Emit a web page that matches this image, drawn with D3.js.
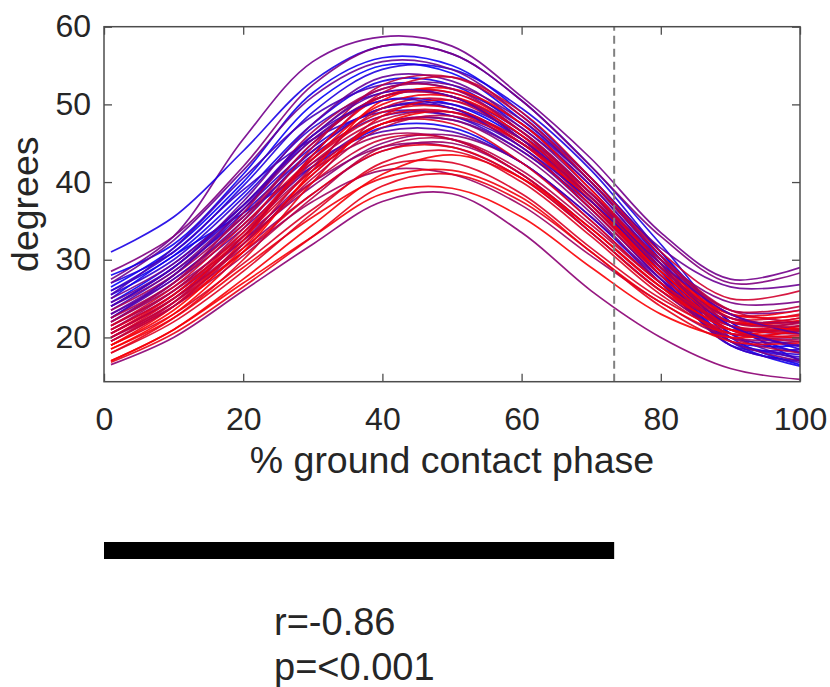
<!DOCTYPE html>
<html>
<head>
<meta charset="utf-8">
<script src="https://cdn.jsdelivr.net/npm/d3@7"></script>
<style>
  body { margin: 0; background: #fff; }
  text { font-family: "Liberation Sans", Arial, sans-serif; fill: #262626; }
</style>
</head>
<body>
<svg id="chart" width="830" height="687"></svg>
<script>
// sample points along the ground contact phase (%)
var phase = [1, 10, 20, 30, 40, 50, 60, 70, 80, 90, 100];

// joint angle (degrees) of each trial at the sample points above
var angleCurves = [
    [27.5, 33.0, 45.5, 55.5, 58.7, 57.5, 51.0, 43.0, 33.5, 27.5, 29.0],
    [31.0, 35.5, 44.0, 53.0, 57.5, 56.5, 50.5, 42.0, 32.0, 22.0, 18.5],
    [28.0, 32.0, 41.0, 51.5, 56.0, 55.0, 49.0, 40.5, 31.0, 22.0, 17.0],
    [26.5, 31.5, 40.0, 50.0, 55.0, 54.0, 48.0, 40.0, 30.0, 20.0, 16.5],
    [27.0, 31.0, 39.5, 49.0, 54.5, 54.5, 49.5, 41.5, 31.0, 21.5, 18.0],
    [26.0, 30.5, 38.5, 47.5, 53.0, 52.5, 47.0, 39.5, 29.5, 19.5, 16.3],
    [25.5, 30.0, 38.0, 47.0, 51.5, 51.0, 46.5, 38.5, 29.0, 19.5, 17.5],
    [24.5, 29.5, 37.0, 45.5, 50.5, 50.0, 45.5, 38.0, 28.5, 19.0, 17.0],
    [26.0, 31.0, 39.0, 45.5, 49.0, 48.5, 44.0, 37.0, 28.0, 19.0, 18.5],
    [25.0, 30.5, 36.0, 42.0, 47.0, 47.0, 42.5, 35.5, 27.0, 19.5, 19.0],
    [24.0, 29.0, 36.5, 44.5, 49.5, 49.5, 45.0, 37.5, 28.5, 19.5, 17.8],
    [23.5, 28.5, 35.5, 43.5, 48.5, 48.5, 44.5, 36.5, 27.5, 19.0, 16.8],
    [25.5, 31.5, 40.5, 48.5, 52.5, 52.0, 47.5, 40.0, 30.5, 20.5, 17.2],
    [22.5, 28.0, 36.0, 44.0, 49.5, 50.0, 46.0, 38.5, 29.5, 20.5, 18.2],
    [28.5, 33.0, 42.0, 52.5, 57.5, 56.5, 50.5, 42.0, 33.0, 27.0, 28.3],
    [27.0, 32.5, 41.5, 51.0, 55.5, 54.5, 48.5, 40.5, 31.5, 26.5, 26.8],
    [24.0, 28.5, 36.5, 45.5, 51.0, 51.5, 47.0, 39.0, 30.0, 24.5, 24.6],
    [23.0, 27.5, 35.0, 44.0, 49.5, 49.5, 45.0, 37.5, 28.5, 21.5, 20.5],
    [22.0, 27.0, 34.0, 42.0, 47.5, 48.0, 44.0, 36.5, 27.5, 20.0, 19.5],
    [21.5, 26.0, 32.5, 39.5, 45.0, 46.0, 42.5, 35.0, 27.0, 21.0, 21.5],
    [20.5, 25.0, 31.5, 38.5, 44.0, 45.0, 41.0, 33.5, 26.0, 20.5, 20.0],
    [16.5, 20.0, 26.0, 32.0, 37.5, 38.5, 33.5, 26.0, 20.0, 16.0, 14.6],
    [25.0, 29.5, 37.0, 46.0, 52.0, 52.5, 48.0, 40.0, 30.5, 23.5, 23.5],
    [23.5, 28.0, 35.5, 45.0, 51.0, 51.0, 46.0, 38.0, 29.0, 22.5, 22.0],
    [22.5, 27.5, 34.5, 42.5, 46.5, 46.5, 42.5, 35.5, 27.5, 21.0, 19.0],
    [21.0, 26.0, 33.5, 41.5, 46.0, 45.5, 41.0, 34.0, 26.5, 20.0, 18.0],
    [20.0, 24.5, 31.0, 37.5, 41.5, 41.0, 37.0, 30.5, 24.5, 20.0, 19.8],
    [24.5, 29.0, 37.5, 47.5, 53.5, 53.0, 47.5, 39.5, 30.0, 23.0, 21.0],
    [22.0, 26.5, 33.0, 40.0, 44.5, 44.5, 40.5, 33.5, 26.0, 20.5, 20.8],
    [21.0, 25.5, 32.5, 41.0, 47.5, 48.0, 43.5, 36.0, 27.0, 19.5, 17.0],
    [17.0, 21.0, 27.0, 33.0, 38.5, 39.2, 35.5, 29.0, 23.0, 20.0, 21.0],
    [18.5, 22.5, 29.0, 35.5, 40.5, 41.5, 38.0, 31.0, 24.5, 20.5, 21.5],
    [19.0, 23.0, 29.5, 36.5, 42.0, 42.5, 38.5, 31.5, 25.0, 21.0, 22.0],
    [19.5, 24.0, 31.0, 38.5, 44.0, 44.5, 40.5, 33.5, 26.0, 21.5, 21.2],
    [20.0, 24.5, 32.0, 40.0, 45.5, 45.5, 41.0, 34.0, 26.5, 22.0, 22.5],
    [20.5, 25.5, 33.5, 43.0, 49.0, 49.5, 45.0, 37.0, 28.5, 22.5, 23.0],
    [19.0, 24.0, 32.5, 43.5, 51.0, 51.5, 46.5, 38.0, 29.0, 23.0, 23.5],
    [18.5, 23.0, 31.0, 41.5, 50.5, 52.0, 47.5, 39.0, 29.5, 22.5, 21.0],
    [20.0, 25.0, 33.0, 43.5, 51.5, 53.5, 49.0, 40.5, 31.0, 25.0, 26.0],
    [21.5, 26.0, 34.0, 44.5, 52.5, 53.5, 48.5, 40.0, 30.5, 23.5, 22.0],
    [18.0, 22.5, 30.0, 40.0, 48.5, 50.5, 46.0, 37.5, 28.0, 21.5, 20.5],
    [19.5, 24.0, 32.0, 42.0, 49.5, 50.5, 45.5, 37.0, 28.0, 21.0, 19.5],
    [17.0, 21.0, 27.5, 34.5, 41.0, 43.5, 40.5, 34.0, 26.5, 21.0, 20.0],
    [20.0, 24.0, 30.5, 38.0, 44.5, 45.5, 41.5, 34.5, 27.0, 21.5, 20.8],
    [21.0, 25.5, 33.0, 41.5, 47.5, 47.5, 42.5, 35.0, 27.0, 22.0, 22.5],
    [22.5, 27.0, 35.0, 45.0, 51.0, 51.0, 45.5, 37.5, 28.5, 22.0, 21.8],
    [19.0, 23.5, 31.5, 41.0, 47.5, 49.0, 45.0, 37.5, 28.5, 22.0, 22.2],
    [18.0, 22.0, 28.5, 36.0, 42.5, 44.0, 40.0, 33.0, 25.5, 20.5, 20.3],
    [20.5, 25.0, 33.0, 43.0, 50.0, 51.0, 46.5, 38.5, 29.5, 23.0, 22.8],
    [16.8, 20.5, 26.5, 33.0, 39.5, 41.0, 37.5, 31.0, 24.0, 19.5, 19.3],
    [19.5, 24.5, 33.0, 42.5, 48.0, 49.0, 45.5, 38.5, 30.0, 23.5, 24.0],
    [21.5, 26.5, 34.5, 43.0, 48.5, 49.0, 44.5, 36.5, 28.0, 21.5, 21.0],
    [22.0, 27.0, 36.0, 46.5, 52.0, 52.0, 46.5, 38.5, 29.0, 22.5, 22.0],
    [23.0, 28.0, 36.5, 46.0, 51.5, 51.0, 45.5, 38.0, 29.5, 23.0, 20.5],
    [24.0, 29.0, 37.0, 46.0, 50.5, 49.5, 44.5, 37.5, 29.0, 21.5, 18.8],
    [20.5, 25.0, 32.0, 40.5, 47.0, 48.5, 45.0, 38.0, 29.0, 22.0, 21.5]
];

// colour weight of each trial: 0 = blue, 1 = red
var redness = [
    0.45, 0.10, 0.05, 0.02, 0.12, 0.08, 0.18, 0.00, 0.22, 0.06,
    0.15, 0.25, 0.28, 0.20, 0.50, 0.42, 0.48, 0.35, 0.38, 0.55,
    0.60, 0.55, 0.45, 0.65, 0.32, 0.68, 0.62, 0.40, 0.58, 0.52,
    0.98, 0.95, 0.85, 0.90, 0.80, 0.88, 0.93, 1.00, 0.82, 0.75,
    0.92, 0.78, 0.97, 0.72, 0.86, 0.70, 0.99, 0.87, 0.94, 0.91,
    0.76, 0.83, 0.66, 0.36, 0.26, 0.74
];

var xTicks = [0, 20, 40, 60, 80, 100];
var yTicks = [20, 30, 40, 50, 60];
var eventPhase = 73.3;          // dashed marker
var sigRange = [0, 73.3];       // significant region bar
var statLines = ["r=-0.86", "p=<0.001"];

var svg = d3.select("#chart");

var x = d3.scaleLinear().domain([0, 100]).range([104, 800]);
var y = d3.scaleLinear().domain([14.3, 60]).range([381.7, 26.7]);

var color = d3.interpolateRgb("#0000ff", "#ff0000");

svg.append("defs").append("clipPath")
    .attr("id", "plot-clip")
    .append("rect")
    .attr("x", x(0)).attr("y", y(60))
    .attr("width", x(100) - x(0)).attr("height", y(14.3) - y(60));

var line = d3.line()
    .x(function(d, i) { return x(phase[i]); })
    .y(function(d) { return y(d); })
    .curve(d3.curveCatmullRom.alpha(0.5));

svg.append("g")
    .attr("clip-path", "url(#plot-clip)")
    .attr("fill", "none")
    .selectAll("path")
    .data(angleCurves)
    .enter().append("path")
    .attr("d", line)
    .attr("stroke", function(d, i) { return color(redness[i]); })
    .attr("stroke-width", 1.7)
    .attr("stroke-opacity", 0.9);

// dashed event line
svg.append("line")
    .attr("x1", x(eventPhase)).attr("x2", x(eventPhase))
    .attr("y1", y(14.3)).attr("y2", y(60))
    .attr("stroke", "#808080")
    .attr("stroke-width", 2)
    .attr("stroke-dasharray", "8,5");

// box axes, MATLAB style with inward ticks on all sides
var axisColor = "#4d4d4d";

function styleAxis(g) {
    g.select(".domain").remove();
    g.selectAll(".tick line").attr("stroke", axisColor).attr("stroke-width", 1.3);
    g.selectAll(".tick text").attr("fill", "#262626").style("font-size", "32px");
}

svg.append("g")
    .attr("transform", "translate(0," + y(14.3) + ")")
    .call(d3.axisBottom(x).tickValues(xTicks).tickSizeInner(-8).tickPadding(16))
    .call(styleAxis)
    .selectAll(".tick text").attr("dy", "1em");

svg.append("g")
    .attr("transform", "translate(0," + y(60) + ")")
    .call(d3.axisTop(x).tickValues(xTicks).tickSizeInner(-8).tickFormat(""))
    .call(styleAxis);

svg.append("g")
    .attr("transform", "translate(" + x(0) + ",0)")
    .call(d3.axisLeft(y).tickValues(yTicks).tickSizeInner(-8).tickPadding(13))
    .call(styleAxis);

svg.append("g")
    .attr("transform", "translate(" + x(100) + ",0)")
    .call(d3.axisRight(y).tickValues(yTicks).tickSizeInner(-8).tickFormat(""))
    .call(styleAxis);

svg.append("rect")
    .attr("x", x(0)).attr("y", y(60))
    .attr("width", x(100) - x(0)).attr("height", y(14.3) - y(60))
    .attr("fill", "none")
    .attr("stroke", axisColor)
    .attr("stroke-width", 1.5);

svg.append("text")
    .attr("x", (x(0) + x(100)) / 2)
    .attr("y", 473)
    .attr("text-anchor", "middle")
    .style("font-size", "37.5px")
    .text("% ground contact phase");

svg.append("text")
    .attr("transform", "translate(38," + (y(14.3) + y(60)) / 2 + ") rotate(-90)")
    .attr("text-anchor", "middle")
    .style("font-size", "37.5px")
    .text("degrees");

// significance bar
svg.append("rect")
    .attr("x", x(sigRange[0]))
    .attr("y", 542)
    .attr("width", x(sigRange[1]) - x(sigRange[0]))
    .attr("height", 17)
    .attr("fill", "#000");

svg.selectAll("text.stat")
    .data(statLines)
    .enter().append("text")
    .attr("class", "stat")
    .attr("x", 274)
    .attr("y", function(d, i) { return 635 + i * 45; })
    .style("font-size", "38px")
    .text(function(d) { return d; });
</script>
</body>
</html>
